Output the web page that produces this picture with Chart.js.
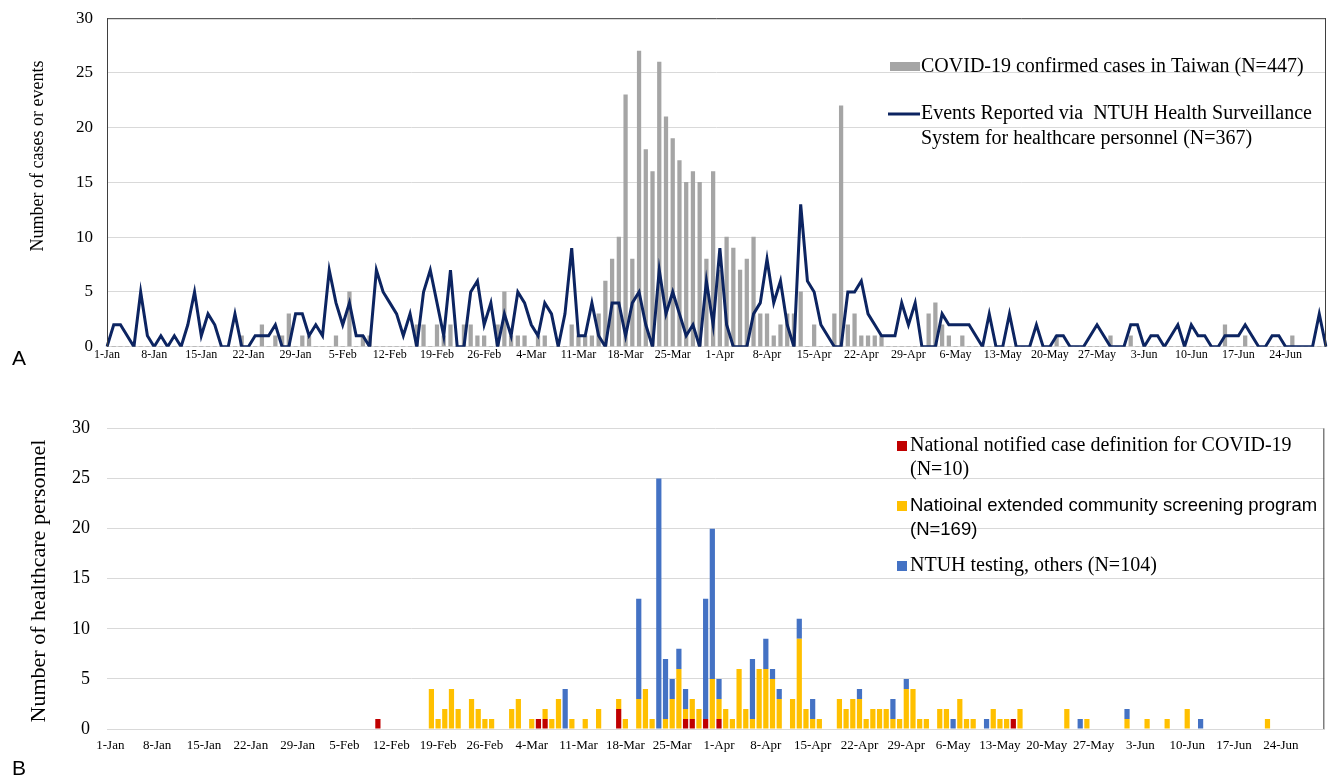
<!DOCTYPE html>
<html>
<head>
<meta charset="utf-8">
<script src="https://cdn.jsdelivr.net/npm/chart.js@4.4.1/dist/chart.umd.min.js"></script>
<style>
  html, body { margin: 0; padding: 0; background: #ffffff; }
  #wrap { position: relative; width: 1330px; height: 778px; overflow: hidden; background: #fff; }
  canvas { position: absolute; left: 0; }
  #cA { top: -6px; }
  #cB { top: 395px; }
  .panel { position: absolute; font-family: 'Liberation Sans', Arial, sans-serif; font-size: 21px; color: #000; }
</style>
</head>
<body>
<div id="wrap">
  <canvas id="cA" width="1330" height="391"></canvas>
  <canvas id="cB" width="1330" height="383"></canvas>
  <div class="panel" style="left:12px; top:346px;">A</div>
  <div class="panel" style="left:12px; top:756px;">B</div>
</div>
<script>
// ---------- categories (2020-01-01 .. 2020-06-30) ----------
const monthNames = ['Jan', 'Feb', 'Mar', 'Apr', 'May', 'Jun'];
const monthLengths = [31, 29, 31, 30, 31, 30];
const days = [];
monthNames.forEach((m, k) => { for (let d = 1; d <= monthLengths[k]; d++) days.push(d + '-' + m); });

// ---------- Panel A ----------
const taiwanCases = [
  0,0,0,0,0,0,0,0,0,0,
  0,0,0,0,0,0,0,0,0,0,
  1,0,0,2,0,1,1,3,0,1,
  1,0,0,0,1,0,5,0,1,1,
  0,0,0,0,0,0,2,2,0,2,
  1,2,0,2,2,1,1,0,2,5,
  1,1,1,0,1,1,0,0,0,2,
  1,1,1,3,6,8,10,23,8,27,
  18,16,26,21,19,17,15,16,15,8,
  16,7,10,9,7,8,10,3,3,1,
  2,3,3,5,0,2,0,0,3,22,
  2,3,1,1,1,1,0,0,0,0,
  0,0,3,4,2,1,0,1,0,0,
  0,0,0,0,0,0,0,0,0,0,
  0,1,0,0,0,0,0,0,0,1,
  0,0,1,0,0,0,0,0,0,0,
  0,0,0,0,0,0,2,0,0,1,
  0,0,0,0,0,0,1,0,0,0,
  0,0
];
const ntuhEvents = [
  0,2,2,1,0,5,1,0,1,0,
  1,0,2,5,1,3,2,0,0,3,
  0,0,1,1,1,2,0,0,3,3,
  1,2,1,7,4,2,4,1,1,0,
  7,5,4,3,1,3,0,5,7,4,
  1,7,0,0,5,6,2,4,0,3,
  1,5,4,2,1,4,3,0,3,9,
  1,1,4,1,0,4,4,1,4,5,
  2,0,7,3,5,3,1,2,0,6,
  2,9,2,0,0,0,3,4,8,4,
  6,2,0,13,6,5,2,1,0,0,
  5,5,6,3,2,1,1,1,4,2,
  4,0,0,0,3,2,2,2,2,1,
  0,3,0,0,3,0,0,0,2,0,
  0,1,1,0,0,0,1,2,1,0,
  0,0,2,2,0,1,1,0,1,2,
  0,2,1,1,0,0,1,1,1,2,
  1,0,0,1,1,0,0,0,0,0,
  3,0
];

// ---------- Panel B ----------
const notifiedCases = [
  0,0,0,0,0,0,0,0,0,0,
  0,0,0,0,0,0,0,0,0,0,
  0,0,0,0,0,0,0,0,0,0,
  0,0,0,0,0,0,0,0,0,0,
  1,0,0,0,0,0,0,0,0,0,
  0,0,0,0,0,0,0,0,0,0,
  0,0,0,0,1,1,0,0,0,0,
  0,0,0,0,0,0,2,0,0,0,
  0,0,0,0,0,0,1,1,0,1,
  0,1,0,0,0,0,0,0,0,0,
  0,0,0,0,0,0,0,0,0,0,
  0,0,0,0,0,0,0,0,0,0,
  0,0,0,0,0,0,0,0,0,0,
  0,0,0,0,0,1,0,0,0,0,
  0,0,0,0,0,0,0,0,0,0,
  0,0,0,0,0,0,0,0,0,0,
  0,0,0,0,0,0,0,0,0,0,
  0,0,0,0,0,0,0,0,0,0,
  0,0
];
const communityScreening = [
  0,0,0,0,0,0,0,0,0,0,
  0,0,0,0,0,0,0,0,0,0,
  0,0,0,0,0,0,0,0,0,0,
  0,0,0,0,0,0,0,0,0,0,
  0,0,0,0,0,0,0,0,4,1,
  2,4,2,0,3,2,1,1,0,0,
  2,3,0,1,0,1,1,3,0,1,
  0,1,0,2,0,0,1,1,0,3,
  4,1,0,1,3,6,1,2,2,0,
  5,2,2,1,6,2,1,6,6,5,
  3,0,3,9,2,1,1,0,0,3,
  2,3,3,1,2,2,2,1,1,4,
  4,1,1,0,2,2,0,3,1,1,
  0,0,2,1,1,0,2,0,0,0,
  0,0,0,2,0,0,1,0,0,0,
  0,0,1,0,0,1,0,0,1,0,
  0,2,0,0,0,0,0,0,0,0,
  0,0,0,1,0,0,0,0,0,0,
  0,0
];
const ntuhTesting = [
  0,0,0,0,0,0,0,0,0,0,
  0,0,0,0,0,0,0,0,0,0,
  0,0,0,0,0,0,0,0,0,0,
  0,0,0,0,0,0,0,0,0,0,
  0,0,0,0,0,0,0,0,0,0,
  0,0,0,0,0,0,0,0,0,0,
  0,0,0,0,0,0,0,0,4,0,
  0,0,0,0,0,0,0,0,0,10,
  0,0,25,6,2,2,2,0,0,12,
  15,2,0,0,0,0,6,0,3,1,
  1,0,0,2,0,2,0,0,0,0,
  0,0,1,0,0,0,0,2,0,1,
  0,0,0,0,0,0,1,0,0,0,
  0,1,0,0,0,0,0,0,0,0,
  0,0,0,0,0,1,0,0,0,0,
  0,0,1,0,0,0,0,0,0,0,
  0,0,0,1,0,0,0,0,0,0,
  0,0,0,0,0,0,0,0,0,0,
  0,0
];

const yTicks = [0, 5, 10, 15, 20, 25, 30];

// ---------- styles ----------
const SERIF = "'Liberation Serif', 'Times New Roman', serif";
const SANS = "'Liberation Sans', Arial, sans-serif";
const GRID = '#d9d9d9';
const NAVY = '#0c2461';
const GREY = '#a5a5a5';
const RED = '#c00000';
const YELLOW = '#ffc000';
const BLUE = '#4472c4';

// custom overlay plugin: legend entries, rotated axis title, frame
const overlay = {
  id: 'overlay',
  afterDraw(chart, args, o) {
    const ctx = chart.ctx;
    const ca = chart.chartArea;
    ctx.save();
    ctx.strokeStyle = '#3f3f3f';
    ctx.lineWidth = 1;
    (o.frame || []).forEach(side => {
      ctx.beginPath();
      if (side === 'left') { ctx.moveTo(ca.left + 0.5, ca.top); ctx.lineTo(ca.left + 0.5, ca.bottom); }
      if (side === 'right') { ctx.moveTo(ca.right - 0.5, ca.top); ctx.lineTo(ca.right - 0.5, ca.bottom); }
      if (side === 'top') { ctx.moveTo(ca.left, ca.top + 0.5); ctx.lineTo(ca.right, ca.top + 0.5); }
      ctx.stroke();
    });
    if (o.title) {
      ctx.save();
      ctx.translate(o.title.x, o.title.y);
      ctx.rotate(-Math.PI / 2);
      ctx.font = o.title.font;
      ctx.fillStyle = '#000';
      ctx.textAlign = 'center';
      ctx.textBaseline = 'middle';
      ctx.fillText(o.title.text, 0, 0);
      ctx.restore();
    }
    ctx.textBaseline = 'middle';
    ctx.textAlign = 'left';
    (o.items || []).forEach(it => {
      if (it.box) { ctx.fillStyle = it.color; ctx.fillRect(it.box[0], it.box[1], it.box[2], it.box[3]); }
      if (it.line) {
        ctx.strokeStyle = it.color; ctx.lineWidth = 3;
        ctx.beginPath(); ctx.moveTo(it.line[0], it.line[1]); ctx.lineTo(it.line[2], it.line[1]); ctx.stroke();
      }
      ctx.fillStyle = '#000';
      it.text.forEach((t, k) => {
        ctx.font = (it.fonts && it.fonts[k]) || it.font;
        ctx.fillText(t, it.x, it.y + k * it.lh);
      });
    });
    ctx.restore();
  }
};

// ---------- Chart A ----------
new Chart(document.getElementById('cA'), {
  data: {
    labels: days,
    datasets: [
      { type: 'line', label: 'Events Reported via NTUH Health Surveillance System for healthcare personnel (N=367)',
        data: ntuhEvents, borderColor: NAVY, borderWidth: 3, pointRadius: 0, tension: 0, order: 0,
        borderJoinStyle: 'miter' },
      { type: 'bar', label: 'COVID-19 confirmed cases in Taiwan (N=447)',
        data: taiwanCases, backgroundColor: GREY, barThickness: 3.6, order: 1 }
    ]
  },
  options: {
    responsive: false,
    animation: false,
    events: [],
    layout: { padding: { left: 22, right: 4, top: 0, bottom: 0 } },
    plugins: {
      legend: { display: false },
      tooltip: { enabled: false },
      overlay: {
        frame: ['left', 'top', 'right'],
        title: { text: 'Number of cases or events', x: 38, y: 162, font: '18px ' + SERIF },
        items: [
          { box: [890, 68, 30, 9], color: GREY, x: 921, y: 73, lh: 25, font: '20px ' + SERIF,
            text: ['COVID-19 confirmed cases in Taiwan (N=447)'] },
          { line: [888, 120, 920], color: NAVY, x: 921, y: 120, lh: 25, font: '20px ' + SERIF,
            text: ['Events Reported via  NTUH Health Surveillance', 'System for healthcare personnel (N=367)'] }
        ]
      }
    },
    scales: {
      x: {
        type: 'category', offset: false,
        grid: { display: false, drawTicks: false },
        border: { display: true, color: GRID },
        ticks: { autoSkip: false, maxRotation: 0, minRotation: 0, padding: 1, color: '#000',
          font: { family: SERIF, size: 12 },
          callback: (v, i) => (i % 7 === 0 ? days[i] : '') },
        afterFit: s => { s.height = 38.3; }
      },
      y: {
        min: 0, max: 30,
        afterBuildTicks: s => { s.ticks = yTicks.map(v => ({ value: v })); },
        grid: { color: GRID, drawTicks: false },
        border: { display: false },
        ticks: { padding: 14, color: '#000', font: { family: SERIF, size: 17 } },
        afterFit: s => { s.width = 85; }
      }
    }
  },
  plugins: [overlay]
});

// ---------- Chart B ----------
new Chart(document.getElementById('cB'), {
  type: 'bar',
  data: {
    labels: days,
    datasets: [
      { label: 'National notified case definition for COVID-19 (N=10)', data: notifiedCases, backgroundColor: RED },
      { label: 'Natioinal extended community screening program (N=169)', data: communityScreening, backgroundColor: YELLOW },
      { label: 'NTUH testing, others (N=104)', data: ntuhTesting, backgroundColor: BLUE }
    ]
  },
  options: {
    responsive: false,
    animation: false,
    events: [],
    datasets: { bar: { categoryPercentage: 1, barPercentage: 0.78, borderWidth: 0 } },
    layout: { padding: { left: 22, right: 2, top: 33.5, bottom: 0 } },
    plugins: {
      legend: { display: false },
      tooltip: { enabled: false },
      overlay: {
        frame: ['right'],
        title: { text: 'Number of healthcare personnel', x: 39, y: 186, font: '22px ' + SERIF },
        items: [
          { box: [897, 46, 10, 10], color: RED, x: 910, y: 51, lh: 24, font: '20px ' + SERIF,
            text: ['National notified case definition for COVID-19', '(N=10)'] },
          { box: [897, 106, 10, 10], color: YELLOW, x: 910, y: 111, lh: 24, font: '18.5px ' + SANS,
            text: ['Natioinal extended community screening program', '(N=169)'] },
          { box: [897, 166, 10, 10], color: BLUE, x: 910, y: 171, lh: 24, font: '20px ' + SERIF,
            text: ['NTUH testing, others (N=104)'] }
        ]
      }
    },
    scales: {
      x: {
        stacked: true,
        grid: { display: false, drawTicks: false },
        border: { display: true, color: GRID },
        ticks: { autoSkip: false, maxRotation: 0, minRotation: 0, padding: 9, color: '#000',
          font: { family: SERIF, size: 13 },
          callback: (v, i) => (i % 7 === 0 ? days[i] : '') },
        afterFit: s => { s.height = 49; }
      },
      y: {
        stacked: true, min: 0, max: 30,
        afterBuildTicks: s => { s.ticks = yTicks.map(v => ({ value: v })); },
        grid: { color: GRID, drawTicks: false },
        border: { display: false },
        ticks: { padding: 17, color: '#000', font: { family: SERIF, size: 18 } },
        afterFit: s => { s.width = 85; }
      }
    }
  },
  plugins: [overlay]
});
</script>
</body>
</html>
